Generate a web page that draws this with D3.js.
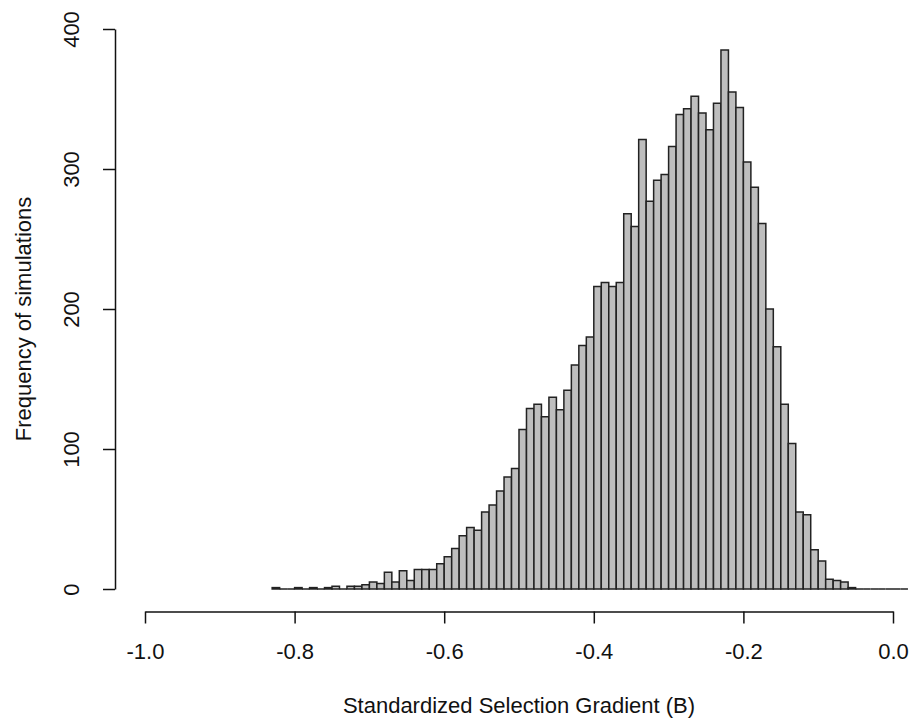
<!DOCTYPE html>
<html>
<head>
<meta charset="utf-8">
<script src="https://cdn.jsdelivr.net/npm/d3@7"></script>
<style>
  body { margin: 0; background: #fff; }
  svg text { font-family: Arial, "Liberation Sans", sans-serif; fill: #111; }
</style>
</head>
<body>
<div id="chart"></div>
<script>
// histograma: primer corte y ancho de cada clase
const binStart = -0.83;
const binWidth = 0.01;

// frecuencias por clase, de -0.83 hacia la derecha
const counts = [
  1, 0, 0, 1, 0, 1, 0, 1, 2, 0,
  2, 2, 3, 5, 4, 12, 5, 13, 6, 14,
  14, 14, 18, 23, 29, 38, 44, 42, 55, 60,
  70, 80, 86, 114, 129, 132, 123, 137, 128, 142,
  160, 174, 180, 216, 219, 216, 219, 268, 259, 321,
  277, 292, 296, 316, 339, 343, 352, 340, 328, 347,
  385, 355, 344, 305, 287, 261, 200, 173, 132, 104,
  55, 53, 28, 20, 7, 6, 5, 1, 0, 0,
  0, 0, 0, 0, 0
];

const xTicks = [-1.0, -0.8, -0.6, -0.4, -0.2, 0.0];
const yTicks = [0, 100, 200, 300, 400];

const xTitle = "Standardized Selection Gradient (B)";
const yTitle = "Frequency of simulations";

const width = 911, height = 722;

const svg = d3.select("#chart").append("svg")
  .attr("width", width)
  .attr("height", height);

// escalas
const x = d3.scaleLinear().domain([-1, 0]).range([145, 893]);
const y = d3.scaleLinear().domain([0, 400]).range([589, 29]);

const bins = counts.map((c, i) => ({
  x0: binStart + i * binWidth,
  x1: binStart + (i + 1) * binWidth,
  count: c
}));

// barras (path para que las clases vacias se vean como linea)
svg.append("g")
  .selectAll("path")
  .data(bins)
  .enter()
  .append("path")
  .attr("d", d => {
    const a = x(d.x0), b = x(d.x1), top = y(d.count), base = y(0);
    return `M${a},${base}V${top}H${b}V${base}Z`;
  })
  .attr("fill", "#bebebe")
  .attr("stroke", "#222")
  .attr("stroke-width", 1.5);

// eje x
const xAxis = svg.append("g")
  .attr("transform", "translate(0,611.5)")
  .call(d3.axisBottom(x).tickValues(xTicks).tickFormat(d => d.toFixed(1))
    .tickSize(12).tickSizeOuter(0).tickPadding(20));

// eje y
const yAxis = svg.append("g")
  .attr("transform", "translate(115,0)")
  .call(d3.axisLeft(y).tickValues(yTicks).tickSize(12).tickSizeOuter(0));

yAxis.selectAll(".tick text")
  .attr("x", 0).attr("y", 0).attr("dy", 0)
  .attr("text-anchor", "middle")
  .attr("transform", "translate(-36,0) rotate(-90)");

[xAxis, yAxis].forEach(g => {
  g.selectAll("path, line").attr("stroke", "#111").attr("stroke-width", 1.5);
  g.selectAll("text").style("font-size", "22px").attr("fill", "#111");
});

// titulos de ejes
svg.append("text")
  .attr("x", 519)
  .attr("y", 713)
  .attr("text-anchor", "middle")
  .style("font-size", "22px")
  .text(xTitle);

svg.append("text")
  .attr("transform", "translate(31,319) rotate(-90)")
  .attr("text-anchor", "middle")
  .style("font-size", "22px")
  .text(yTitle);
</script>
</body>
</html>
